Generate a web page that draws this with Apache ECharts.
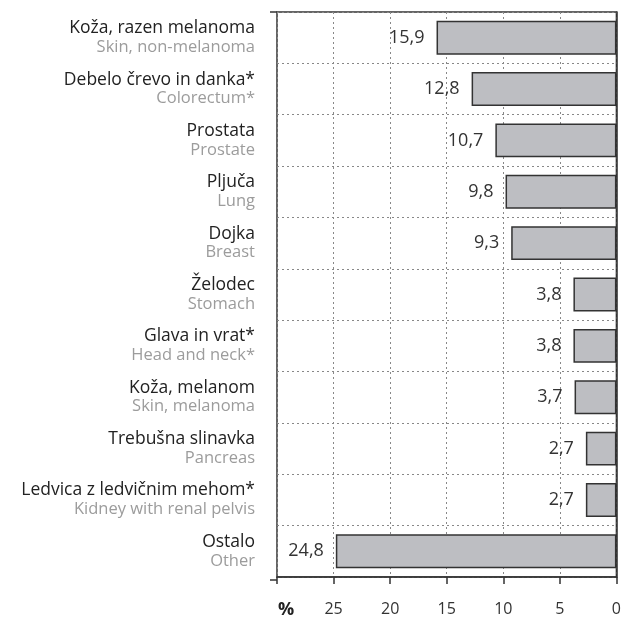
<!DOCTYPE html>
<html><head><meta charset="utf-8">
<script src="https://cdn.jsdelivr.net/npm/echarts@6/dist/echarts.min.js"></script>
<style>html,body{margin:0;padding:0;background:#fff}#c{width:624px;height:619px}</style>
</head><body><div id="c"></div>
<script>
const categoriesSl = ['Koža, razen melanoma','Debelo črevo in danka*','Prostata','Pljuča','Dojka','Želodec','Glava in vrat*','Koža, melanom','Trebušna slinavka','Ledvica z ledvičnim mehom*','Ostalo'];
const categoriesEn = ['Skin, non-melanoma','Colorectum*','Prostate','Lung','Breast','Stomach','Head and neck*','Skin, melanoma','Pancreas','Kidney with renal pelvis','Other'];
const values = [15.9, 12.8, 10.7, 9.8, 9.3, 3.8, 3.8, 3.7, 2.7, 2.7, 24.8];
const xTicks = [0, 5, 10, 15, 20, 25];
const unitLabel = '%';

const FONT = '"Open Sans", sans-serif';
const chart = echarts.init(document.getElementById('c'));
chart.setOption({
  animation: false,
  textStyle: {fontFamily: FONT},
  grid: {left: 277, right: 6, top: 12, bottom: 39, show: true, borderColor: '#333', borderWidth: 1.5, backgroundColor: 'transparent'},
  xAxis: {
    type: 'value', inverse: true, min: 0, max: 30, interval: 5,
    axisLine: {show: true, lineStyle: {color: '#333', width: 1.5}},
    axisTick: {show: true, length: 7, lineStyle: {color: '#333', width: 1.5}},
    splitLine: {show: true, lineStyle: {color: '#888', type: [2, 3], width: 1}},
    axisLabel: {
      margin: 24, fontSize: 16, color: '#333', fontFamily: FONT,
      formatter: function (v) {
        if (v === 30) return '{p|' + unitLabel + '}';
        return xTicks.indexOf(v) >= 0 ? String(v) : '';
      },
      rich: {p: {fontSize: 18, fontWeight: 'bold', color: '#222', fontFamily: FONT, padding: [0, 0, 0, 18]}}
    }
  },
  yAxis: {
    type: 'category', inverse: true,
    data: categoriesSl.map((s, i) => s + '\n' + categoriesEn[i]),
    axisLine: {show: true, lineStyle: {color: '#333', width: 1.5}},
    axisTick: {show: false},
    splitLine: {show: true, lineStyle: {color: '#888', type: [2, 3], width: 1}},
    axisLabel: {
      margin: 22, align: 'right',
      formatter: function (v) {
        const p = v.split('\n');
        return '{a|' + p[0] + '}\n{b|' + p[1] + '}';
      },
      rich: {
        a: {fontSize: 17.5, color: '#222', fontFamily: FONT, lineHeight: 19, align: 'right'},
        b: {fontSize: 16.5, color: '#9c9c9c', fontFamily: FONT, lineHeight: 19, align: 'right'}
      }
    }
  },
  series: [{
    type: 'bar', data: values, barWidth: '66%',
    itemStyle: {color: '#bdbec2', borderColor: '#333', borderWidth: 1.5},
    label: {
      show: true, position: 'left', distance: 12, fontSize: 18, color: '#333', fontFamily: FONT,
      formatter: p => p.value.toFixed(1).replace('.', ',')
    }
  }],
  graphic: [
    {type: 'line', shape: {x1: 270, y1: 12, x2: 277, y2: 12}, style: {stroke: '#333', lineWidth: 1.5}},
    {type: 'line', shape: {x1: 270, y1: 580, x2: 277, y2: 580}, style: {stroke: '#333', lineWidth: 1.5}}
  ]
});
</script></body></html>
